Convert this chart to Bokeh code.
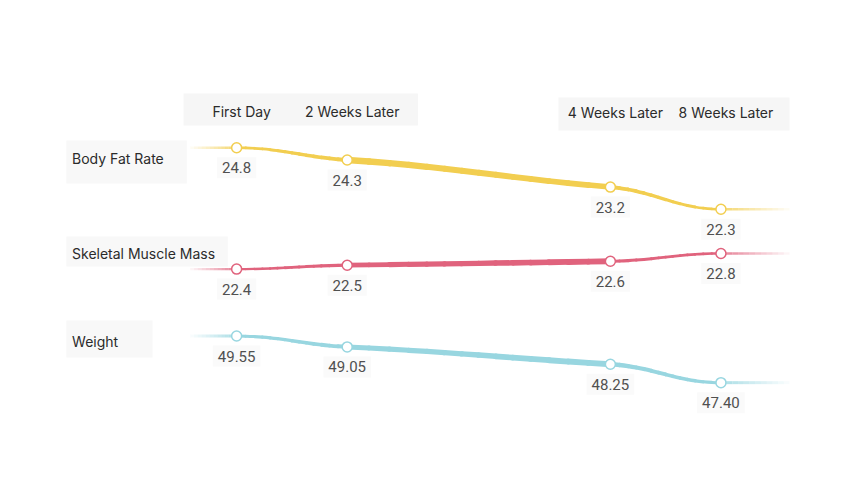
from bokeh.plotting import figure
from bokeh.models import FactorRange, Range1d, ColumnDataSource
from bokeh.embed import file_html
from bokeh.resources import INLINE
from bokeh.core.properties import value

# ---------------- data ----------------
stages = ["First Day", "2 Weeks Later", "4 Weeks Later", "8 Weeks Later"]
stage_groups = ["a", "a", "b", "b"]
metrics = ["Body Fat Rate", "Skeletal Muscle Mass", "Weight"]
body_fat = [24.8, 24.3, 23.2, 22.3]
muscle_mass = [22.4, 22.5, 22.6, 22.8]
weight = [49.55, 49.05, 48.25, 47.40]

# ---------------- layout / style ----------------
FW, FH = 830, 478          # frame size
MB = 8                     # border left / top
SUB_PAD = 1.38
LABEL_FACTOR = ("L", "l", "Metric")
factors = [LABEL_FACTOR] + [("R", g, s) for g, s in zip(stage_groups, stages)]

series = [
    dict(name="fat", values=body_fat, color="#F2CE50", rng=(11.023, 30.462), fmt="{:.1f}",
         widths=[(2.5, 4.0), (6.5, 5.5), (4.0, 2.5)]),
    dict(name="muscle", values=muscle_mass, color="#E0637D", rng=(16.846, 29.058), fmt="{:.1f}",
         widths=[(2.2, 3.4), (4.8, 6.0), (3.2, 2.5)]),
    dict(name="weight", values=weight, color="#98D6E0", rng=(42.61, 64.66), fmt="{:.2f}",
         widths=[(3.0, 4.0), (5.0, 6.0), (4.5, 3.0)]),
]

FONT = value("Inter")
NUM_FONT = value("Roboto")

p = figure(width=FW + MB, height=FH + MB,
           x_range=FactorRange(*factors, factor_padding=0, subgroup_padding=SUB_PAD,
                               group_padding=0, range_padding=0.563,
                               range_padding_units="absolute"),
           y_range=Range1d(FH, 0), output_backend="svg", toolbar_location=None,
           x_axis_location=None, y_axis_location=None, min_border=0,
           min_border_left=MB, min_border_top=MB,
           outline_line_color=None, background_fill_color="white",
           border_fill_color="white")
p.xgrid.grid_line_color = None
p.ygrid.grid_line_color = None

for s in series:
    p.extra_y_ranges[s["name"]] = Range1d(*s["rng"])

stage_factors = factors[1:]


def off(f, d):
    return tuple(f) + (d,)


# ---------------- header boxes & labels ----------------
hdr_box = ColumnDataSource(dict(
    left=[off(stage_factors[0], -0.48), off(stage_factors[2], -0.47)],
    right=[off(stage_factors[1], 0.64), off(stage_factors[3], 0.62)],
    top=[85, 89], bottom=[117, 122]))
p.quad(left="left", right="right", top="top", bottom="bottom", source=hdr_box,
       fill_color="#F6F6F6", line_color=None)

hdr_txt = ColumnDataSource(dict(x=stage_factors, y=[103, 103, 104, 104], t=stages))
p.text(x="x", y="y", text="t", source=hdr_txt, text_font=FONT, text_font_size="14px",
       text_color="#2b2b2b", text_align="center", text_baseline="middle", x_offset=5)

# ---------------- row labels ----------------
row_box = ColumnDataSource(dict(
    left=[off(LABEL_FACTOR, -0.54)] * 3,
    right=[off(LABEL_FACTOR, 0.55), off(LABEL_FACTOR, 0.92), off(LABEL_FACTOR, 0.24)],
    top=[132, 228, 312], bottom=[175, 258, 349]))
p.quad(left="left", right="right", top="top", bottom="bottom", source=row_box,
       fill_color="#F8F8F8", line_color=None)
row_txt = ColumnDataSource(dict(x=[LABEL_FACTOR] * 3, y=[150, 245, 333], t=metrics))
p.text(x="x", y="y", text="t", source=row_txt, text_font=FONT, text_font_size="14px",
       text_color="#2b2b2b", text_align="left", text_baseline="middle", x_offset=-54)

# ---------------- series ----------------
pos = []
acc = 0.0
for i, g in enumerate(stage_groups):
    if i > 0:
        acc += 1.0 + (SUB_PAD if g != stage_groups[i - 1] else 0.0)
    pos.append(acc)

K = 14  # sub-pieces per segment, so the stroke width can taper


def bez(P, t):
    u = 1 - t
    return tuple(u**3 * P[0][c] + 3 * u * u * t * P[1][c] + 3 * u * t * t * P[2][c] + t**3 * P[3][c]
                 for c in range(2))


def dbez(P, t):
    u = 1 - t
    return tuple(3 * u * u * (P[1][c] - P[0][c]) + 6 * u * t * (P[2][c] - P[1][c])
                 + 3 * t * t * (P[3][c] - P[2][c]) for c in range(2))


for s in series:
    v = s["values"]
    n = len(v)
    h = [pos[i + 1] - pos[i] for i in range(n - 1)]
    d = [(v[i + 1] - v[i]) / h[i] for i in range(n - 1)]
    m = [0.0] * n
    for k in range(1, n - 1):
        if d[k - 1] * d[k] > 0:
            w1 = 2 * h[k] + h[k - 1]
            w2 = h[k] + 2 * h[k - 1]
            m[k] = 0.6 * (w1 + w2) / (w1 / d[k - 1] + w2 / d[k])

    cols = dict(x0=[], y0=[], x1=[], y1=[], cx0=[], cy0=[], cx1=[], cy1=[], lw=[])
    for i in range(n - 1):
        # control polygon in (offset from stage i, value) space
        P = [(0.0, v[i]), (h[i] * 0.4, v[i] + m[i] * h[i] * 0.4),
             (h[i] * 0.6, v[i + 1] - m[i + 1] * h[i] * 0.4), (h[i], v[i + 1])]
        wa, wb = s["widths"][i]
        f = stage_factors[i]
        for j in range(K):
            t0, t1 = j / K, (j + 1) / K
            A, B = bez(P, t0), bez(P, t1)
            dA, dB = dbez(P, t0), dbez(P, t1)
            dt = (t1 - t0) / 3
            cols["x0"].append(off(f, A[0])); cols["y0"].append(A[1])
            cols["x1"].append(off(f, B[0])); cols["y1"].append(B[1])
            cols["cx0"].append(off(f, A[0] + dA[0] * dt)); cols["cy0"].append(A[1] + dA[1] * dt)
            cols["cx1"].append(off(f, B[0] - dB[0] * dt)); cols["cy1"].append(B[1] - dB[1] * dt)
            cols["lw"].append(wa + (wb - wa) * (j + 0.5) / K)
    p.bezier(x0="x0", y0="y0", x1="x1", y1="y1", cx0="cx0", cy0="cy0", cx1="cx1", cy1="cy1",
             source=ColumnDataSource(cols), line_color=s["color"], line_width="lw",
             line_cap="round", y_range_name=s["name"])

    # fading tails
    N = 12
    tx0, tx1, ty, ta, tw = [], [], [], [], []
    for j in range(N):
        a = 0.8 * (1 - j / N)
        tx0.append(off(stage_factors[0], -0.42 * j / N))
        tx1.append(off(stage_factors[0], -0.42 * (j + 1) / N))
        ty.append(v[0]); ta.append(a); tw.append(s["widths"][0][0])
        tx0.append(off(stage_factors[-1], 0.62 * j / N))
        tx1.append(off(stage_factors[-1], 0.62 * (j + 1) / N))
        ty.append(v[-1]); ta.append(a); tw.append(s["widths"][-1][1])
    tail = ColumnDataSource(dict(x0=tx0, x1=tx1, y=ty, a=ta, w=tw))
    p.segment(x0="x0", y0="y", x1="x1", y1="y", source=tail, line_color=s["color"],
              line_alpha="a", line_width="w", line_cap="butt", y_range_name=s["name"])

    pts = ColumnDataSource(dict(x=stage_factors, y=v, t=[s["fmt"].format(x) for x in v]))
    p.scatter(x="x", y="y", source=pts, size=10, marker="circle", fill_color="white",
              line_color=s["color"], line_width=1.5, y_range_name=s["name"])
    p.text(x="x", y="y", text="t", source=pts, y_range_name=s["name"], text_font=NUM_FONT,
           text_font_size="15px", text_color="#505050", text_align="center",
           text_baseline="middle", y_offset=20, background_fill_color="#FAFAFA",
           padding=5)

open("out.html", "w").write(file_html(p, INLINE))
